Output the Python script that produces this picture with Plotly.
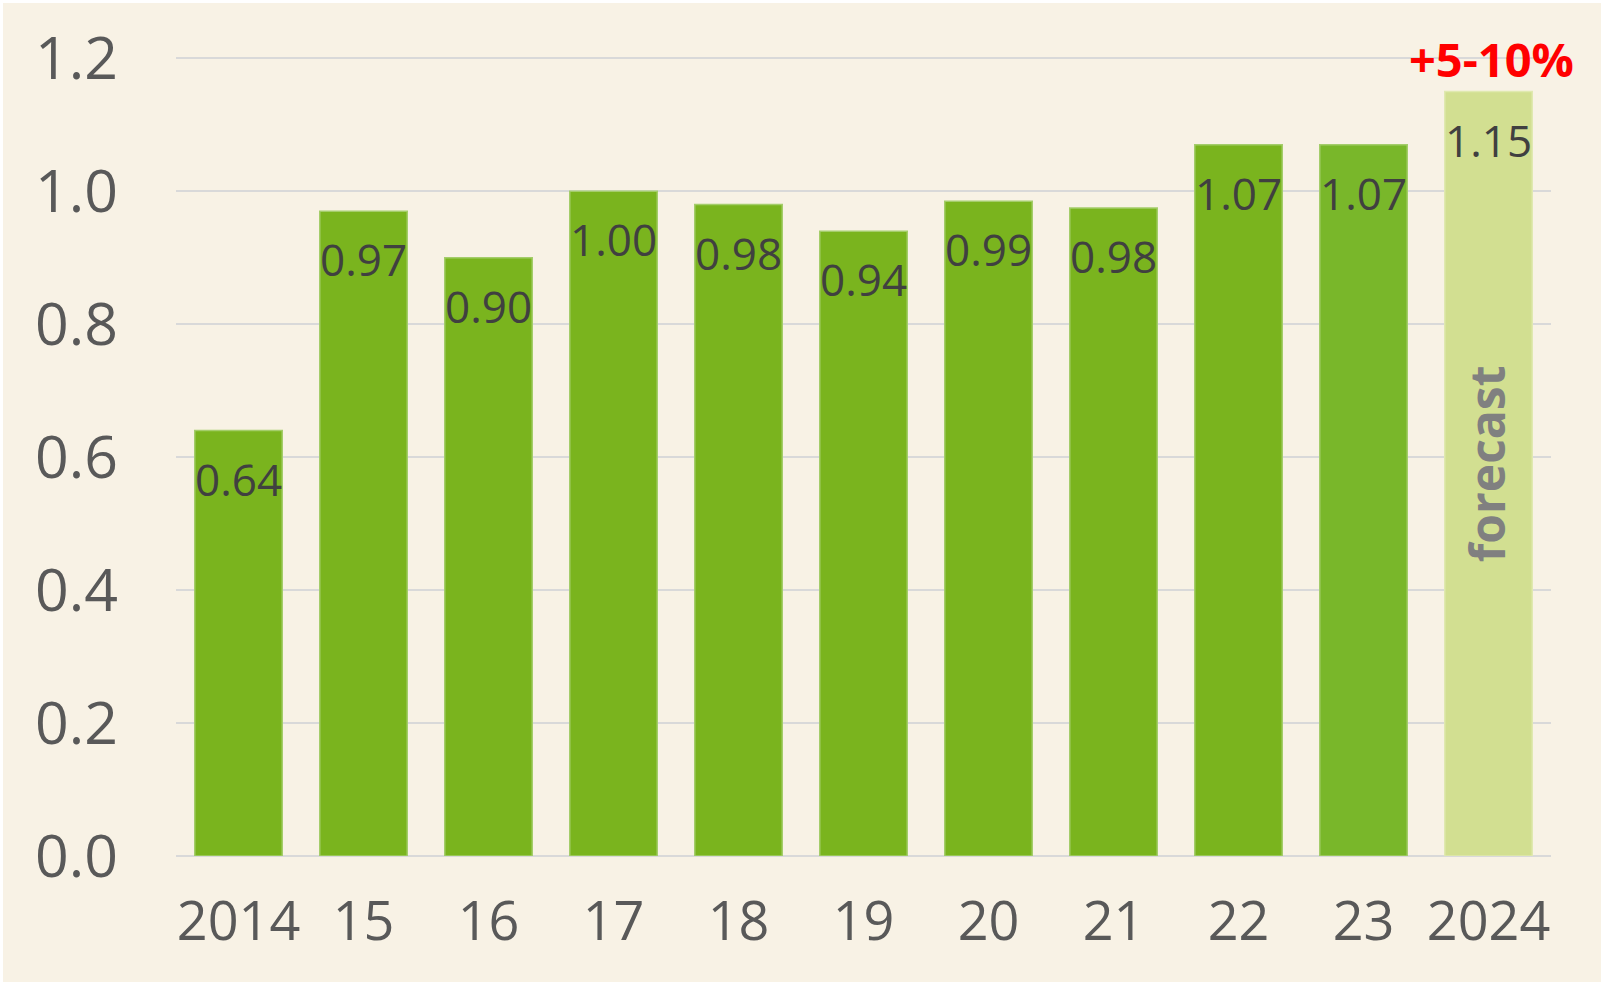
import plotly.graph_objects as go

categories = ["2014", "15", "16", "17", "18", "19", "20", "21", "22", "23", "2024"]
values = [0.64, 0.97, 0.90, 1.00, 0.98, 0.94, 0.985, 0.975, 1.07, 1.07, 1.15]
value_labels = ["0.64", "0.97", "0.90", "1.00", "0.98", "0.94", "0.99", "0.98", "1.07", "1.07", "1.15"]
bar_colors = ["#7AB41E"] * 9 + ["#79B72A", "#D2DF91"]
line_colors = ["#A4CD6A"] * 10 + ["#E0E9B0"]
forecast_note = "forecast"
growth_note = "+5-10%"

BG = "#F8F2E5"
FONT = "Open Sans"

fig = go.Figure()
fig.add_trace(go.Bar(
    x=categories, y=values,
    marker=dict(color=bar_colors, line=dict(color=line_colors, width=1.5)),
    hoverinfo="skip",
))

# category axis: annotation x given as category index
for i, (v, t) in enumerate(zip(values, value_labels)):
    fig.add_annotation(
        x=i, y=v, xref="x", yref="y", text=t, showarrow=False,
        yanchor="middle", yshift=-48,
        font=dict(family=FONT, size=44, color="#404040"),
    )
last = len(categories) - 1
fig.add_annotation(
    x=last, y=0.59, xref="x", yref="y", text="<b>" + forecast_note + "</b>",
    showarrow=False, textangle=-90, xshift=-2,
    font=dict(family=FONT, size=48, color="#808080"),
)
fig.add_annotation(
    x=last, y=values[-1], xref="x", yref="y", text="<b>" + growth_note + "</b>",
    showarrow=False, yanchor="middle", yshift=33, xshift=3,
    font=dict(family=FONT, size=47, color="#FF0000"),
)

L, R, T, B = 176, 53, 55, 129
W, H = 1604, 985
pw, ph = W - L - R, H - T - B

fig.update_layout(
    width=W, height=H,
    margin=dict(l=L, r=R, t=T, b=B, pad=0),
    paper_bgcolor="#FFFFFF",
    plot_bgcolor="rgba(0,0,0,0)",
    bargap=0.3,
    showlegend=False,
    font=dict(family=FONT, color="#595959"),
    shapes=[dict(
        type="rect", xref="paper", yref="paper", layer="below",
        x0=(3 - L) / pw, x1=(W - 3 - L) / pw,
        y0=-(H - 3 - (H - B)) / ph, y1=(H - B - 3) / ph,
        fillcolor=BG, line=dict(width=0),
    )],
    xaxis=dict(
        type="category", tickfont=dict(size=54, color="#595959", family=FONT),
        showgrid=False, showline=False, ticks="", ticklabelstandoff=29,
        range=[-0.5, len(categories) - 0.5],
    ),
    yaxis=dict(
        range=[0, 1.205], dtick=0.2, tickformat=".1f",
        tickfont=dict(size=59, color="#595959", family=FONT),
        showgrid=True, gridcolor="#D9D9D9", gridwidth=2,
        zeroline=True, zerolinecolor="#D9D9D9", zerolinewidth=2,
        showline=False, ticks="", ticklabelstandoff=57,
    ),
)

fig.write_html("out.html", config={"displayModeBar": False},
               post_script="document.body.style.margin='0';")
